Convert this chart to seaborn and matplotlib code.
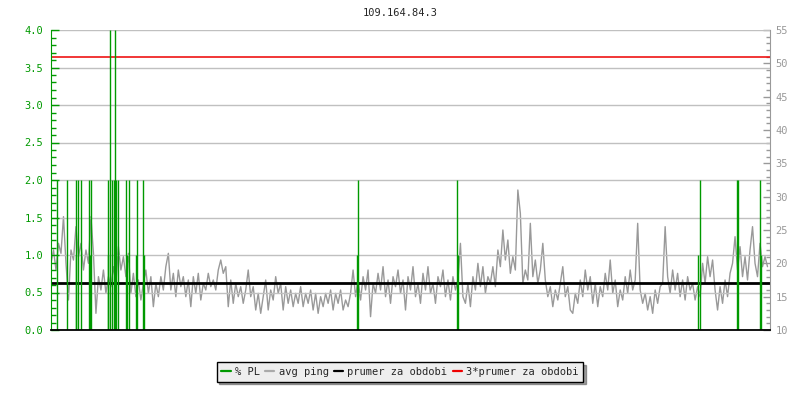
import matplotlib
matplotlib.use("Agg")
import matplotlib.pyplot as plt
import seaborn as sns
import numpy as np
from matplotlib.ticker import MultipleLocator, FormatStrFormatter
from matplotlib.lines import Line2D

sns.set_style("white")
plt.rcParams["font.family"] = ["DejaVu Sans Mono", "DejaVu Sans"]

title = "109.164.84.3"
start_time = "19:02"
tick_labels = ["19:02", "21:04", "23:06", "01:07", "03:08", "05:09",
               "07:10", "09:11", "11:13", "13:14", "15:15", "17:17"]

# avg ping [ms], one sample every 5 minutes from 19:02
sample_step = 5
ping_ms = [
    20, 22, 19, 23, 21.5, 27, 20, 14.5, 22, 20.5, 25.5, 21,
    23, 19, 22, 20, 27, 21.5, 12.5, 18, 16, 19, 15.5, 18,
    16.5, 19.5, 17, 22.5, 19, 21, 18, 21.5, 15.5, 18.5, 15, 17.5,
    14.5, 17, 19, 15.5, 18, 13.5, 17, 15, 18, 16, 19.5, 21.5,
    16, 18.5, 15, 19, 16.5, 18, 15, 17.5, 13.5, 18, 15.5, 18.5,
    14.5, 17, 16, 18.5, 16.5, 17.5, 16, 19, 20.5, 18.5, 19.5, 13.5,
    17.5, 14, 17, 15, 16.5, 14, 16, 19, 15, 16.5, 13, 15.5,
    12.5, 15, 17.5, 13, 16, 14.5, 18, 15.5, 17, 13, 16.5, 14,
    16, 13.5, 15.5, 14, 16.5, 13.5, 15.5, 14, 16, 13, 15.5, 12.5,
    15, 13.5, 15.5, 14, 16, 13, 15.5, 14, 16, 13, 14.5, 13.5,
    15.5, 19, 15, 17.5, 14.5, 18, 16, 19, 12, 17, 15.5, 18.5,
    16, 19.5, 15, 17.5, 14, 18, 16.5, 19, 15.5, 17.5, 13, 18,
    16, 19.5, 15, 17, 14, 18.5, 16, 19.5, 15.5, 17, 14, 18,
    16.5, 19, 15, 17.5, 14.5, 18, 16, 17.5, 23, 15, 14, 17,
    13.5, 18, 16, 20, 16.5, 19.5, 15.5, 18, 17, 19.5, 16.5, 22,
    19.5, 25, 20.5, 23.5, 18.5, 21, 19, 31, 27.5, 17, 19, 17.5,
    26, 18, 20.5, 17, 19, 23, 17.5, 15, 16.5, 13.5, 16, 14.5,
    17, 19.5, 15, 16.5, 13, 12.5, 15.5, 14, 17.5, 15, 19, 16,
    18, 14, 17, 13.5, 16.5, 15, 18.5, 16, 20.5, 15.5, 17.5, 13.5,
    16, 14.5, 18, 15.5, 19, 16, 17.5, 26, 16, 14, 15.5, 13,
    15, 12.5, 16, 14, 16.5, 17, 25.5, 18, 15.5, 19, 16, 18.5,
    15, 17.5, 14.5, 18, 16, 17, 14.5, 16.5, 15, 20, 17, 21,
    18, 20.5, 16, 13, 16.5, 14, 17.5, 15, 18.5, 20, 24, 19,
    22.5, 18, 21, 17.5, 22, 25.5, 20, 18, 23, 19.5, 21, 19.5,
]

# packet loss events: minute after 19:02, % PL
pl_minutes = [13, 33, 50, 51, 55, 61, 77, 78, 81, 114, 115, 119, 122, 127,
              129, 131, 134, 151, 152, 157, 170, 173, 185, 186,
              613, 615, 813, 815, 1296, 1299, 1374, 1376, 1419, 1421]
pl_values = [2.0, 2.0, 1.0, 2.0, 2.0, 2.0, 2.0, 1.0, 2.0, 1.0, 2.0, 4.0, 2.0, 2.0,
             4.0, 2.0, 2.0, 2.0, 1.0, 2.0, 1.0, 2.0, 2.0, 1.0,
             1.0, 2.0, 2.0, 1.0, 1.0, 2.0, 2.0, 2.0, 2.0, 1.0]

mean_ping = 17.0

green = "#009900"
gray = "#999999"
red = "#ee0000"

h0, m0 = map(int, start_time.split(":"))
tick_minutes = [((int(s[:2]) * 60 + int(s[3:])) - (h0 * 60 + m0)) % 1440 for s in tick_labels]
t = np.arange(len(ping_ms)) * sample_step

fig = plt.figure(figsize=(8, 4), dpi=100)
ax = fig.add_axes([51 / 800, 70 / 400, 719 / 800, 300 / 400])
ax2 = ax.twinx()
ax.set_zorder(ax2.get_zorder() + 1)
ax.patch.set_visible(False)

# ping on the right scale
sns.lineplot(x=t, y=ping_ms, ax=ax2, color=gray, linewidth=1.0)
ax2.axhline(mean_ping, color="black", linewidth=2.0)
ax2.axhline(3 * mean_ping, color=red, linewidth=1.1)
ax2.set_ylim(10, 55)
ax2.set_xlim(0, 1440)

# packet loss on the left scale
ax.vlines(pl_minutes, 0, pl_values, color=green, linewidth=1.0)
ax.set_ylim(0, 4)
ax.set_xlim(0, 1440)

ax.yaxis.set_major_locator(MultipleLocator(0.5))
ax.yaxis.set_minor_locator(MultipleLocator(0.1))
ax.yaxis.set_major_formatter(FormatStrFormatter("%.1f"))
ax.yaxis.grid(True, color="#c0c0c0", linewidth=1.0)
ax.tick_params(axis="y", which="major", direction="in", length=6, width=1,
               colors=green, labelsize=7.5, pad=5.5)
ax.tick_params(axis="y", which="minor", direction="in", length=3.5, width=1, colors=green)

ax.set_xticks(tick_minutes)
ax.set_xticklabels(tick_labels)
ax.tick_params(axis="x", direction="in", length=5, width=1, colors="black",
               labelsize=7.5, pad=4)

ax2.yaxis.set_major_locator(MultipleLocator(5))
ax2.yaxis.set_minor_locator(MultipleLocator(1))
ax2.tick_params(axis="y", which="major", direction="in", length=5, width=1,
                colors=gray, labelsize=7.5, pad=4)
ax2.tick_params(axis="y", which="minor", direction="in", length=3, width=1, colors=gray)
ax2.set_xticks([])
ax2.set_ylabel("")
ax2.set_xlabel("")

for s in ["top", "right"]:
    ax.spines[s].set_visible(False)
ax.spines["left"].set_color(green)
ax.spines["bottom"].set_color("black")
ax.spines["bottom"].set_linewidth(1.3)
for s in ["top", "left", "bottom"]:
    ax2.spines[s].set_visible(False)
ax2.spines["right"].set_color(gray)

fig.text(0.5, 1 - 13 / 400, title, ha="center", va="center", fontsize=7.5)

handles = [Line2D([], [], color=green, linewidth=1.6),
           Line2D([], [], color="#aaaaaa", linewidth=1.6),
           Line2D([], [], color="black", linewidth=1.6),
           Line2D([], [], color=red, linewidth=1.6)]
labels = ["% PL", "avg ping", "prumer za obdobi", "3*prumer za obdobi"]
leg = fig.legend(handles, labels, loc="center", bbox_to_anchor=(400 / 800, 1 - 372 / 400),
                 ncol=4, fancybox=False, shadow=True, edgecolor="black",
                 facecolor="#eeeeee", framealpha=1, fontsize=7.5,
                 handlelength=0.9, handletextpad=0.4, columnspacing=0.5,
                 borderpad=0.45, borderaxespad=0)
leg.get_frame().set_linewidth(1.0)

fig.savefig("out.png", dpi=100)
